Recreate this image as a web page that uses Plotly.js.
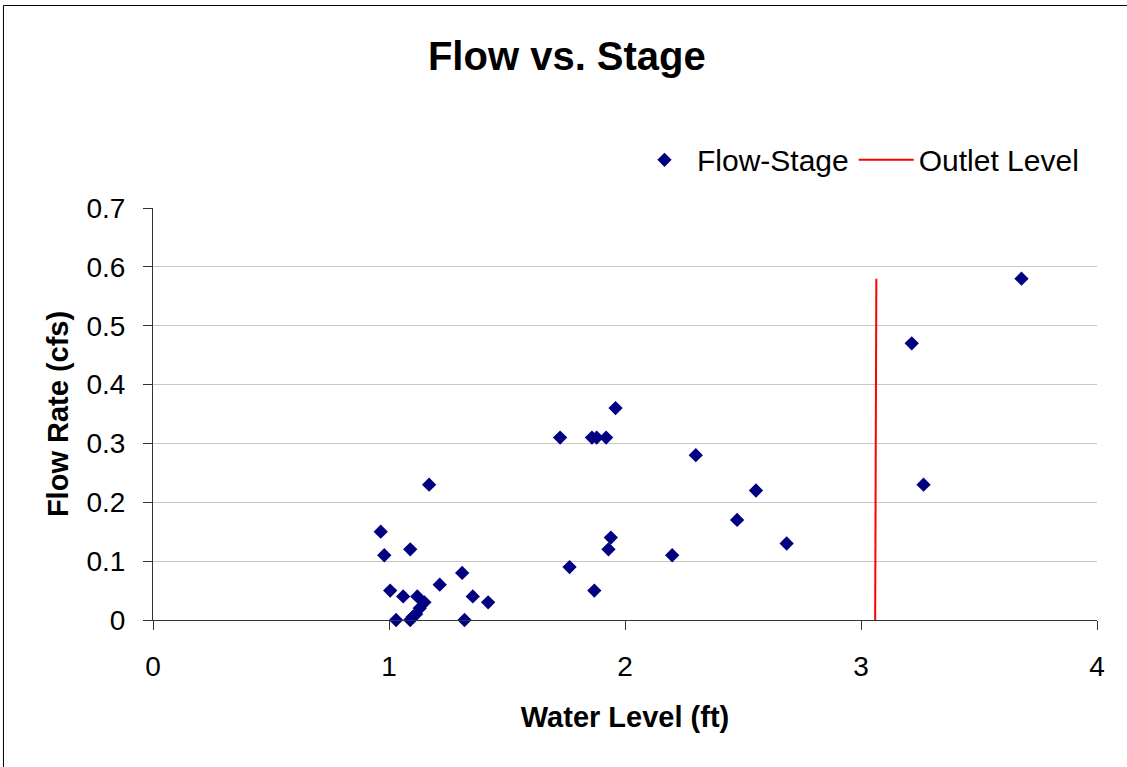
<!DOCTYPE html>
<html>
<head>
<meta charset="utf-8">
<script src="https://cdn.plot.ly/plotly-3.0.1.min.js"></script>
<style>
  html, body { margin: 0; padding: 0; background: #fff; }
  #chart { width: 1127px; height: 767px; }
</style>
</head>
<body>
<div id="chart"></div>
<script>
// Flow-Stage observations
const waterLevel = [0.965, 0.98, 1.005, 1.03, 1.06, 1.09, 1.09, 1.10, 1.115, 1.13, 1.12, 1.15,
  1.17, 1.215, 1.31, 1.32, 1.355, 1.42, 1.725, 1.765, 1.86, 1.88, 1.87, 1.92, 1.93, 1.94,
  1.96, 2.20, 2.30, 2.475, 2.555, 2.685, 3.215, 3.265, 3.68];
const flowRate = [0.15, 0.11, 0.05, 0.00, 0.04, 0.12, 0.00, 0.005, 0.01, 0.02, 0.04, 0.03,
  0.23, 0.06, 0.08, 0.00, 0.04, 0.03, 0.31, 0.09, 0.31, 0.31, 0.05, 0.31, 0.12, 0.14,
  0.36, 0.11, 0.28, 0.17, 0.22, 0.13, 0.47, 0.23, 0.58];

// Outlet level line
const outletX = [3.06, 3.065];
const outletY = [0, 0.58];

const xTicks = [0, 1, 2, 3, 4];
const yTicks = [0, 0.1, 0.2, 0.3, 0.4, 0.5, 0.6, 0.7];

const font = 'Arial, "Liberation Sans", sans-serif';

const traces = [
  {
    x: waterLevel, y: flowRate, name: 'Flow-Stage', type: 'scatter', mode: 'markers',
    marker: { symbol: 'diamond', size: 11, color: '#000080' },
    cliponaxis: false
  },
  {
    x: outletX, y: outletY, name: 'Outlet Level', type: 'scatter', mode: 'lines',
    line: { color: '#ff0000', width: 2 }
  }
];

const layout = {
  width: 1127, height: 767,
  margin: { l: 153, r: 30, t: 208, b: 147 },
  paper_bgcolor: '#ffffff', plot_bgcolor: '#ffffff',
  font: { family: font, color: '#000000', size: 28 },
  title: {
    text: '<b>Flow vs. Stage</b>',
    font: { family: font, size: 40, color: '#000' },
    xref: 'container', x: 0.503, xanchor: 'center',
    yref: 'container', y: 0.927, yanchor: 'middle'
  },
  showlegend: true,
  legend: {
    orientation: 'h', x: 0.5074, xanchor: 'left', y: 1.117, yanchor: 'middle',
    font: { family: font, size: 30, color: '#000' },
    itemwidth: 55,
    bgcolor: 'rgba(0,0,0,0)'
  },
  xaxis: {
    range: [0, 4], tickvals: xTicks, ticktext: xTicks.map(String),
    showgrid: false, zeroline: false,
    showline: true, linecolor: '#333', linewidth: 1,
    ticks: 'outside', ticklen: 9, tickcolor: '#333', tickwidth: 1,
    tickfont: { family: font, size: 28, color: '#000' },
    ticklabelstandoff: 12,
    title: { text: '<b>Water Level (ft)</b>', font: { family: font, size: 29, color: '#000' }, standoff: 26 }
  },
  yaxis: {
    range: [0, 0.7], tickvals: yTicks, ticktext: yTicks.map(v => String(v)),
    showgrid: true, gridcolor: '#c8c8c8', gridwidth: 1, zeroline: false,
    showline: true, linecolor: '#333', linewidth: 1,
    ticks: 'outside', ticklen: 9, tickcolor: '#333', tickwidth: 1,
    tickfont: { family: font, size: 28, color: '#000' },
    ticklabelstandoff: 12,
    title: { text: '<b>Flow Rate (cfs)</b>', font: { family: font, size: 29, color: '#000' }, standoff: 9 }
  },
  shapes: [
    {
      type: 'rect', xref: 'paper', yref: 'paper',
      x0: -0.1584, x1: 1.3, y0: -0.6, y1: 1.4915,
      line: { color: '#000', width: 1 }, fillcolor: 'rgba(0,0,0,0)', layer: 'below'
    }
  ]
};

Plotly.newPlot('chart', traces, layout, { staticPlot: true, displayModeBar: false });
</script>
</body>
</html>
